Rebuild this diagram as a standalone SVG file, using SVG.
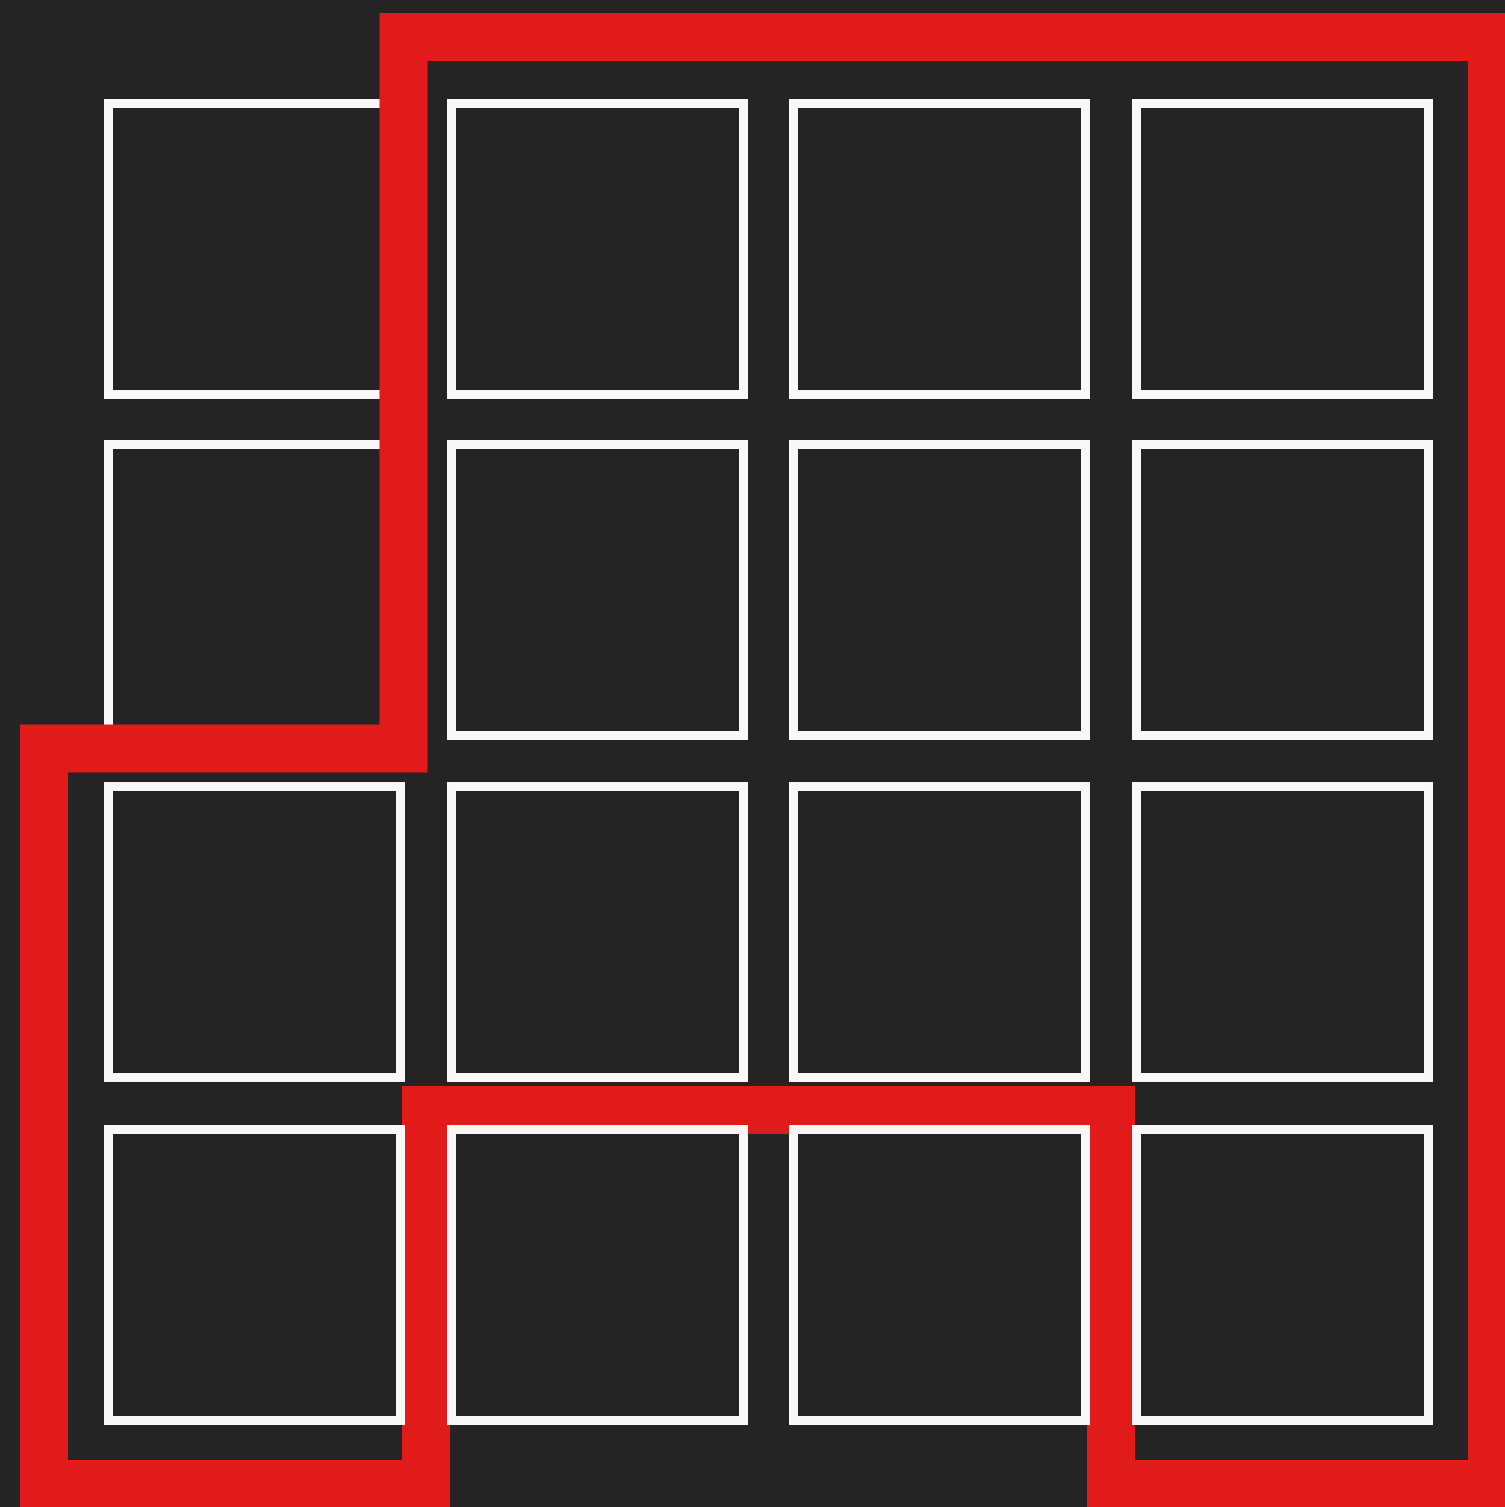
<svg xmlns="http://www.w3.org/2000/svg" width="1505" height="1507" viewBox="0 0 1505 1507">
<style>
.cell{fill:#242424;stroke:#f8f8f8;stroke-width:9}
.route{fill:none;stroke:#e11b19;stroke-width:48;stroke-linejoin:miter}
</style>
<rect x="0" y="0" width="1505" height="1507" fill="#242424"/>
<g id="cell-r1c1"><rect class="cell" x="108.5" y="103.5" width="292" height="291"/></g>
<g id="cell-r2c1"><rect class="cell" x="108.5" y="444.5" width="292" height="291"/></g>
<g id="connectors">
<path class="route" d="M426,1484 L426,1110 L1111,1110 L1111,1484 L1492,1484 L1492,37 L403.5,37 L403.5,748.5 L44,748.5 L44,1484 Z"/>
</g>
<g id="cell-r1c2"><rect class="cell" x="451.5" y="103.5" width="292" height="291"/></g>
<g id="cell-r1c3"><rect class="cell" x="793.5" y="103.5" width="292" height="291"/></g>
<g id="cell-r1c4"><rect class="cell" x="1136.5" y="103.5" width="292" height="291"/></g>
<g id="cell-r2c2"><rect class="cell" x="451.5" y="444.5" width="292" height="291"/></g>
<g id="cell-r2c3"><rect class="cell" x="793.5" y="444.5" width="292" height="291"/></g>
<g id="cell-r2c4"><rect class="cell" x="1136.5" y="444.5" width="292" height="291"/></g>
<g id="cell-r3c1"><rect class="cell" x="108.5" y="786.5" width="292" height="291"/></g>
<g id="cell-r3c2"><rect class="cell" x="451.5" y="786.5" width="292" height="291"/></g>
<g id="cell-r3c3"><rect class="cell" x="793.5" y="786.5" width="292" height="291"/></g>
<g id="cell-r3c4"><rect class="cell" x="1136.5" y="786.5" width="292" height="291"/></g>
<g id="cell-r4c1"><rect class="cell" x="108.5" y="1129.5" width="292" height="291"/></g>
<g id="cell-r4c2"><rect class="cell" x="451.5" y="1129.5" width="292" height="291"/></g>
<g id="cell-r4c3"><rect class="cell" x="793.5" y="1129.5" width="292" height="291"/></g>
<g id="cell-r4c4"><rect class="cell" x="1136.5" y="1129.5" width="292" height="291"/></g>
</svg>
